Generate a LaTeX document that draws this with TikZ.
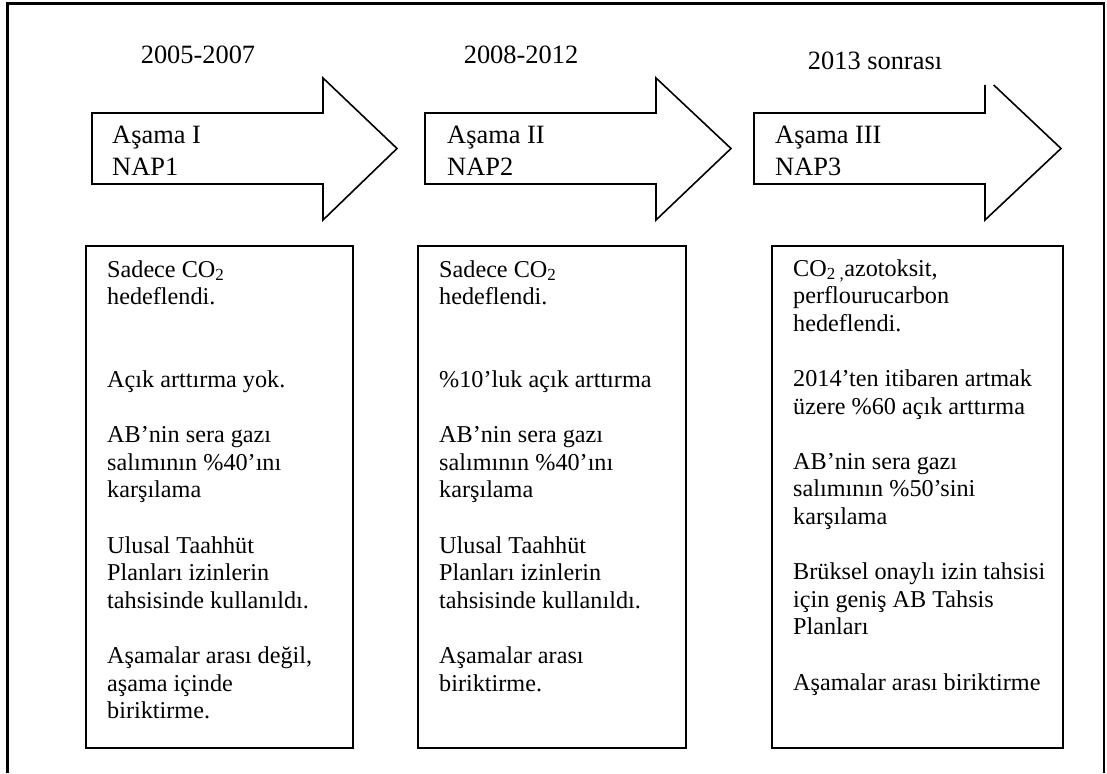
\documentclass[tikz,border=0pt]{standalone}
\usepackage{fontspec}
\setmainfont{Liberation Serif}
\newcommand\myline[1]{\hbox{#1}}
\newcommand\mygap{\hbox{}}
\newcommand\boxlines[1]{\vtop{\fontsize{24.2}{27.6}\selectfont\lineskiplimit=-100pt\lineskip=0pt #1}}
\newcommand\arrowlines[1]{\vtop{\fontsize{26.4}{32}\selectfont\lineskiplimit=-100pt\lineskip=0pt #1}}
\begin{document}
\begin{tikzpicture}[x=1pt,y=-1pt,
  outerframe/.style={line width=2.2pt},
  stagearrow/.style={draw, line width=1.6pt, line join=miter},
  panel/.style={draw, line width=1.8pt},
  yearlabel/.style={anchor=base, inner sep=0pt, font=\fontsize{26.4}{30}\selectfont},
  txt/.style={anchor=base west, inner sep=0pt}]
\useasboundingbox (0,0) rectangle (1107,773);
% outer frame (open at bottom)
\draw[outerframe] (7.5,773) -- (7.5,3.5) -- (1104,3.5) -- (1104,773);

% year labels
\node[yearlabel] (y1) at (198,64) {2005-2007};
\node[yearlabel] (y2) at (521,64) {2008-2012};
\node[yearlabel] (y3) at (875,70) {2013 sonrası};

% stage arrows
\draw[stagearrow] (92,113) -- (323,113) -- (323,78) -- (397,148.5) -- (323,220) -- (323,184) -- (92,184) -- cycle;
\draw[stagearrow] (425,113) -- (656,113) -- (656,78) -- (731,148.5) -- (656,220) -- (656,184) -- (425,184) -- cycle;
\draw[stagearrow] (993.7,85) -- (1061,148.5) -- (985,220) -- (985,184) -- (754,184) -- (754,113) -- (985,113) -- (985,85);

\node[txt] (a1) at (112,143) {\arrowlines{\myline{Aşama I}\myline{NAP1}}};
\node[txt] (a2) at (447,143) {\arrowlines{\myline{Aşama II}\myline{NAP2}}};
\node[txt] (a3) at (775,143) {\arrowlines{\myline{Aşama III}\myline{NAP3}}};

% panels
\draw[panel] (86,246) rectangle (353,748);
\draw[panel] (418,246) rectangle (686,748);
\draw[panel] (772,246) rectangle (1063,748);

\node[txt] (b1) at (107,277) {\boxlines{%
\myline{Sadece CO\textsubscript{2}}\myline{hedeflendi.}\mygap\mygap
\myline{Açık arttırma yok.}\mygap
\myline{AB’nin sera gazı}\myline{salımının \%40’ını}\myline{karşılama}\mygap
\myline{Ulusal Taahhüt}\myline{Planları izinlerin}\myline{tahsisinde kullanıldı.}\mygap
\myline{Aşamalar arası değil,}\myline{aşama içinde}\myline{biriktirme.}}};

\node[txt] (b2) at (439,277) {\boxlines{%
\myline{Sadece CO\textsubscript{2}}\myline{hedeflendi.}\mygap\mygap
\myline{\%10’luk açık arttırma}\mygap
\myline{AB’nin sera gazı}\myline{salımının \%40’ını}\myline{karşılama}\mygap
\myline{Ulusal Taahhüt}\myline{Planları izinlerin}\myline{tahsisinde kullanıldı.}\mygap
\myline{Aşamalar arası}\myline{biriktirme.}}};

\node[txt] (b3) at (793,276) {\boxlines{%
\myline{CO\textsubscript{2 ,}azotoksit,}\myline{perflourucarbon}\myline{hedeflendi.}\mygap
\myline{2014’ten itibaren artmak}\myline{üzere \%60 açık arttırma}\mygap
\myline{AB’nin sera gazı}\myline{salımının \%50’sini}\myline{karşılama}\mygap
\myline{Brüksel onaylı izin tahsisi}\myline{için geniş AB Tahsis}\myline{Planları}\mygap
\myline{Aşamalar arası biriktirme}}};
\end{tikzpicture}
\end{document}
